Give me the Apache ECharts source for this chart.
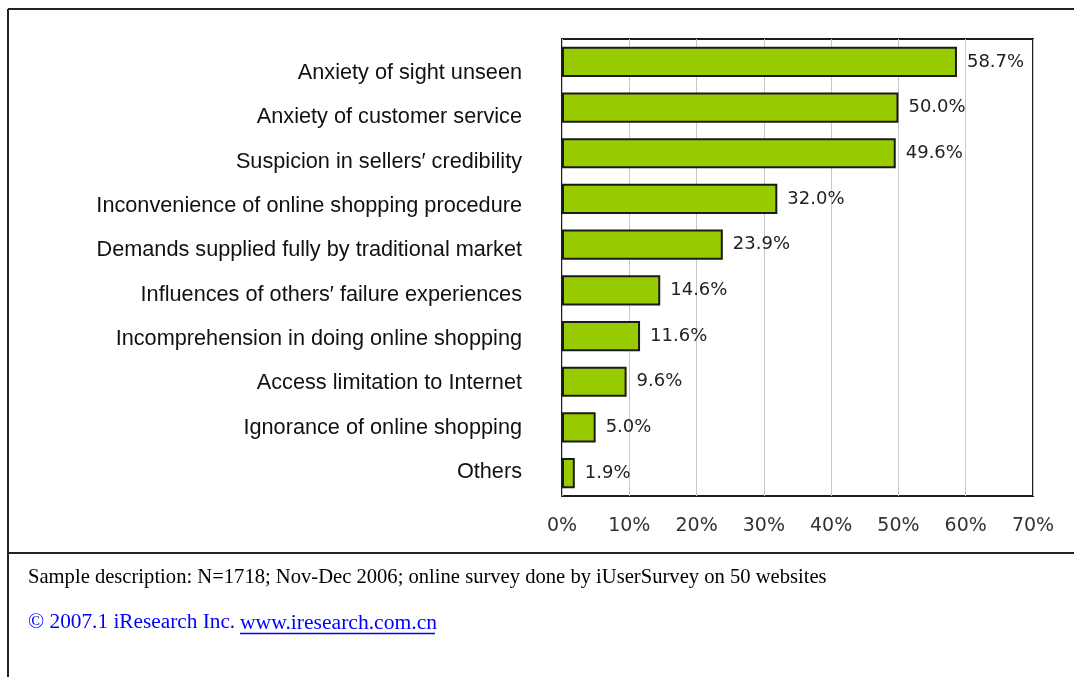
<!DOCTYPE html>
<html>
<head>
<meta charset="utf-8">
<script src="https://cdn.jsdelivr.net/npm/echarts@6/dist/echarts.min.js"></script>
<style>
    html, body {margin: 0; padding: 0; background: #fff;}
    #chart {width: 1074px; height: 677px;}
</style>
</head>
<body>
<div id="chart"></div>
<script>
// reasons for not shopping online, share of respondents (%)
var categories = [
    "Anxiety of sight unseen",
    "Anxiety of customer service",
    "Suspicion in sellers\u2032 credibility",
    "Inconvenience of online shopping procedure",
    "Demands supplied fully by traditional market",
    "Influences of others\u2032 failure experiences",
    "Incomprehension in doing online shopping",
    "Access limitation to Internet",
    "Ignorance of online shopping",
    "Others"
];
var values = [58.7, 50.0, 49.6, 32.0, 23.9, 14.6, 11.6, 9.6, 5.0, 1.9];
var tickLabels = ["0%", "10%", "20%", "30%", "40%", "50%", "60%", "70%"];
var footNote = "Sample description: N=1718; Nov-Dec 2006; online survey done by iUserSurvey on 50 websites";
var copyright = "\u00a9 2007.1 iResearch Inc. ";
var siteLink = "www.iresearch.com.cn";

var myChart = echarts.init(document.getElementById("chart"));

var option = {
    animation: false,
    backgroundColor: "#fff",
    grid: [{
        left: 562, top: 39, width: 471, height: 457,
        show: true, borderColor: "#1e1e1e", borderWidth: 2,
        backgroundColor: "transparent"
    }, {
        left: 562, top: 51, width: 471, height: 443
    }],
    xAxis: [{
        gridIndex: 0,
        type: "value",
        min: 0, max: 70, interval: 10,
        axisLine: {show: false},
        axisTick: {show: false},
        splitLine: {show: true, lineStyle: {color: "#c8c8c8", width: 1}},
        axisLabel: {
            margin: 21,
            fontFamily: "DejaVu Sans",
            fontSize: 19,
            color: "#333",
            formatter: function (v) {
                return tickLabels[Math.round(v / 10)];
            }
        }
    }, {
        gridIndex: 1,
        type: "value",
        min: 0, max: 70,
        show: false
    }],
    yAxis: [{
        gridIndex: 0,
        type: "category",
        inverse: true,
        data: categories,
        axisLine: {show: false},
        axisTick: {show: false},
        axisLabel: {show: false},
        splitLine: {show: false}
    }, {
        gridIndex: 1,
        type: "category",
        inverse: true,
        data: categories,
        axisLine: {show: false},
        axisTick: {show: false},
        splitLine: {show: false},
        axisLabel: {
            margin: 40,
            fontFamily: "Liberation Sans",
            fontSize: 21.7,
            color: "#111"
        }
    }],
    series: [{
        type: "bar",
        xAxisIndex: 0,
        yAxisIndex: 0,
        data: values,
        barCategoryGap: "34%",
        itemStyle: {color: "#99cc00", borderColor: "#1a1a1a", borderWidth: 2},
        label: {
            show: true,
            position: "right",
            distance: 10,
            fontFamily: "DejaVu Sans",
            fontSize: 18,
            color: "#222",
            formatter: function (p) {
                return p.value.toFixed(1) + "%";
            }
        }
    }],
    graphic: [
        {type: "line", shape: {x1: 8, y1: 9, x2: 1074, y2: 9}, style: {stroke: "#222", lineWidth: 2}},
        {type: "line", shape: {x1: 8, y1: 9, x2: 8, y2: 677}, style: {stroke: "#222", lineWidth: 2}},
        {type: "line", shape: {x1: 8, y1: 553, x2: 1074, y2: 553}, style: {stroke: "#222", lineWidth: 2}},
        {type: "text", x: 28, y: 567, style: {text: footNote, font: "20.6px 'Liberation Serif'", fill: "#000"}},
        {type: "text", x: 28, y: 612, style: {text: copyright, font: "21.3px 'Liberation Serif'", fill: "#0000ff"}},
        {type: "text", x: 240, y: 612, style: {text: siteLink, font: "21.6px 'Liberation Serif'", fill: "#0000ff"}},
        {type: "line", shape: {x1: 240, y1: 633.5, x2: 435, y2: 633.5}, style: {stroke: "#0000ff", lineWidth: 1.3}}
    ]
};
myChart.setOption(option);
</script>
</body>
</html>
